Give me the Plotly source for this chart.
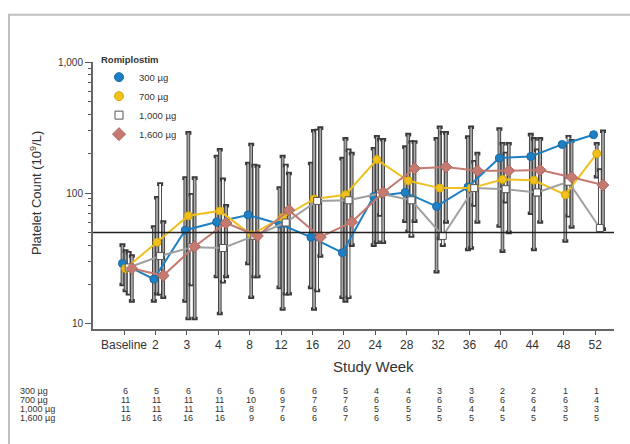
import plotly.graph_objects as go

weeks = ["Baseline", "2", "3", "4", "8", "12", "16", "20", "24", "28", "32", "36", "40", "44", "48", "52"]
series_names = ["300 µg", "700 µg", "1,000 µg", "1,600 µg"]

med_300 = [29, 22, 52, 60, 68, 58, 46, 35, 94, 101, 79, 111, 185, 190, 235, 279]
med_700 = [26.5, 42, 67, 73, 48, 65, 90, 97, 180, 124, 109, 109, 127, 125, 97, 200]
med_1000 = [27, 33, 38.5, 38, 47, 59.5, 87, 88, 99, 88, 47, 109, 107, 101, 122, 54]
med_1600 = [26.5, 23.4, 39, 59, 47, 74, 46, 60, 101, 154, 158, 148, 148, 150, 132, 115]

lo_300 = [20, 15, 15, 23, 29, 19, 19, 16, 40, 61, 25, 37, 56, 70, 235, 279]
hi_300 = [40, 55, 130, 190, 168, 109, 168, 183, 218, 224, 259, 267, 308, 279, 235, 279]
lo_700 = [18, 17, 11, 12, 16, 13, 13, 15, 42, 51, 45, 38, 36, 37, 43, 133]
hi_700 = [36, 92, 288, 214, 235, 190, 299, 259, 269, 279, 318, 318, 238, 259, 230, 238]
lo_1000 = [17, 17, 20, 21, 23, 17, 18, 16, 68, 47, 40, 81, 86, 97, 67, 53]
hi_1000 = [35, 117, 97, 127, 162, 162, 300, 212, 255, 245, 288, 173, 200, 212, 269, 150]
lo_1600 = [15, 16, 11, 23, 23, 17, 33, 40, 42, 61, 60, 60, 50, 60, 55, 53]
hi_1600 = [33, 60, 130, 80, 160, 141, 313, 200, 255, 245, 288, 200, 238, 259, 250, 296]

n_300 = [6, 5, 6, 6, 6, 6, 6, 5, 4, 4, 3, 3, 2, 2, 1, 1]
n_700 = [11, 11, 11, 11, 10, 9, 7, 7, 6, 6, 6, 6, 6, 6, 6, 4]
n_1000 = [11, 11, 11, 11, 8, 7, 6, 6, 5, 5, 5, 4, 4, 4, 3, 3]
n_1600 = [16, 16, 16, 16, 9, 6, 6, 7, 6, 5, 5, 5, 5, 5, 5, 5]

meds = [med_300, med_700, med_1000, med_1600]
los = [lo_300, lo_700, lo_1000, lo_1600]
his = [hi_300, hi_700, hi_1000, hi_1600]
ns = [n_300, n_700, n_1000, n_1600]

colors = ["#1f7fc4", "#f0c020", "#a0a0a0", "#c47a70"]
symbols = ["circle", "circle", "square", "diamond"]
msizes = [8, 8, 7, 9]
mfill = ["#1f7fc4", "#f0c020", "#ffffff", "#c47a70"]
mline = ["#1a6aa5", "#d9a800", "#555555", "#b06860"]
bar_inner = ["#a8a8a8", "#a8a8a8", "#ffffff", "#a8a8a8"]
offsets = [-0.05, 0.05, 0.15, 0.25]

W, H = 630, 444
def px(x):
    return x / W
def py(y):
    return (H - y) / H

FONT = "Liberation Sans Narrow, Arial Narrow, Liberation Sans, Arial"

fig = go.Figure()

# error bars (outlined boxes)
for k in range(4):
    xs = [i + offsets[k] for i in range(len(weeks))]
    up = [h - m for h, m in zip(his[k], meds[k])]
    dn = [m - l for m, l in zip(meds[k], los[k])]
    fig.add_trace(go.Scatter(x=xs, y=meds[k], mode="markers", marker=dict(opacity=0),
                             showlegend=False, hoverinfo="skip",
                             error_y=dict(type="data", array=up, arrayminus=dn, color="#3a3a3a",
                                          thickness=3.6, width=3)))
    fig.add_trace(go.Scatter(x=xs, y=meds[k], mode="markers", marker=dict(opacity=0),
                             showlegend=False, hoverinfo="skip",
                             error_y=dict(type="data", array=up, arrayminus=dn, color=bar_inner[k],
                                          thickness=1.8, width=0)))

# lines + markers
for k in range(4):
    xs = [i + offsets[k] for i in range(len(weeks))]
    fig.add_trace(go.Scatter(x=xs, y=meds[k], mode="lines+markers", showlegend=False,
                             line=dict(color=colors[k], width=2),
                             marker=dict(symbol=symbols[k], size=msizes[k], color=mfill[k],
                                         line=dict(color=mline[k], width=1))))

# legend entries (markers only)
for k in range(4):
    fig.add_trace(go.Scatter(x=[None], y=[None], mode="markers", name=series_names[k],
                             marker=dict(symbol=symbols[k], size=msizes[k] + 1, color=mfill[k],
                                         line=dict(color=mline[k], width=1))))

fig.add_hline(y=50, line=dict(color="#222222", width=1.5))

minor_vals = [v * m for m in (10, 100) for v in range(2, 10)]

fig.update_layout(
    width=W, height=H,
    margin=dict(l=0, r=0, t=0, b=0),
    paper_bgcolor="white", plot_bgcolor="white",
    font=dict(family=FONT, color="#333333"),
    showlegend=True,
    legend=dict(x=px(99), y=py(45), xanchor="left", yanchor="top",
                title=dict(text="<b>Romiplostim</b>", font=dict(size=9.5)),
                font=dict(size=9.5), bgcolor="rgba(0,0,0,0)", tracegroupgap=0, itemwidth=30),
    xaxis=dict(domain=[px(93), px(614)], range=[-0.987, 15.6], tickmode="array",
               tickvals=list(range(len(weeks))), ticktext=weeks, ticks="outside", ticklen=4,
               tickwidth=1.2, tickcolor="#555", showline=True, linecolor="#666", linewidth=2,
               showgrid=False, zeroline=False, tickfont=dict(size=12), anchor="y"),
    yaxis=dict(domain=[py(328), py(57)], type="log", range=[0.9624, 3], tickmode="array",
               tickvals=[10, 100, 1000], ticktext=["10", "100", "1,000"], ticks="outside",
               ticklen=6, tickwidth=1.2, tickcolor="#555", showline=True, linecolor="#666",
               linewidth=2, showgrid=False, zeroline=False, tickfont=dict(size=10),
               minor=dict(tickvals=minor_vals, ticks="outside", ticklen=3, tickcolor="#555",
                          showgrid=False), anchor="x"),
)

# frame
fig.add_shape(type="rect", xref="paper", yref="paper", x0=px(9), x1=1.2, y0=-0.2, y1=py(9),
              line=dict(color="#c0c0c0", width=2), layer="below")

# axis titles
fig.add_annotation(text="Platelet Count (10<sup>9</sup>/L)", xref="paper", yref="paper",
                   x=px(36), y=py(190), textangle=-90, showarrow=False,
                   font=dict(size=13, color="#333"), xanchor="center", yanchor="middle")
fig.add_annotation(text="Study Week", xref="paper", yref="paper", x=px(373), y=py(366),
                   showarrow=False, font=dict(size=15, color="#333"), xanchor="center",
                   yanchor="middle")

# table of n
row_y = [391, 400.5, 409.5, 418.5]
for r in range(4):
    fig.add_annotation(text=series_names[r], xref="paper", yref="paper", x=px(19), y=py(row_y[r]),
                       showarrow=False, xanchor="left", yanchor="middle", borderpad=0,
                       font=dict(size=9, color="#333"))
    for i in range(len(weeks)):
        fig.add_annotation(text=str(ns[r][i]), xref="x", yref="paper", x=i + 0.05, y=py(row_y[r]),
                           showarrow=False, xanchor="center", yanchor="middle", borderpad=0,
                           font=dict(size=9, color="#333"))

fig.write_html("out.html", config={"displayModeBar": False},
               post_script="document.body.style.margin='0px';")
